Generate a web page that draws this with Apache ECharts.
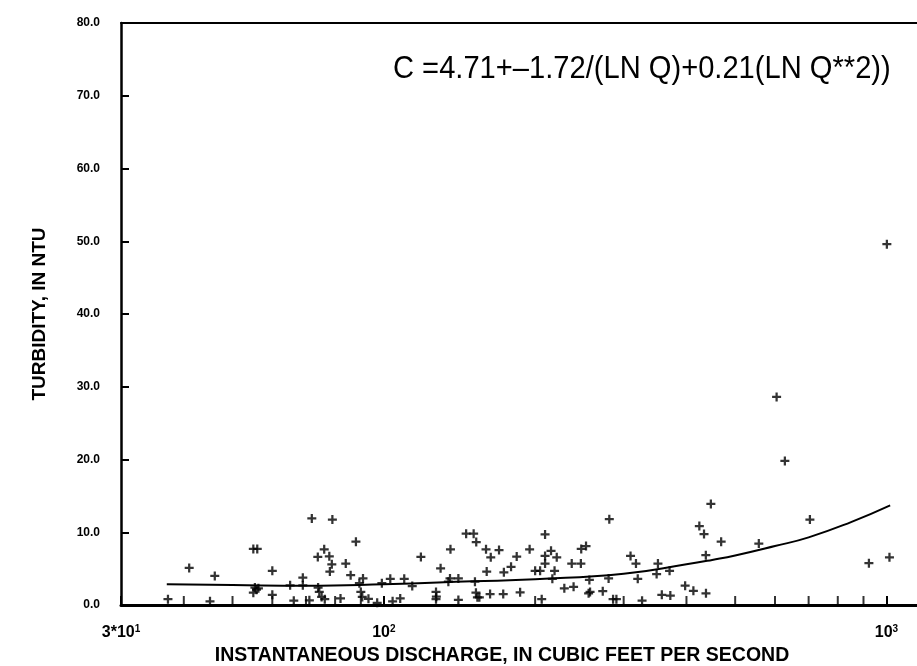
<!DOCTYPE html>
<html>
<head>
<meta charset="utf-8">
<title>Turbidity vs instantaneous discharge</title>
<script src="https://cdn.jsdelivr.net/npm/echarts@6/dist/echarts.min.js"></script>
<style>
  html, body { margin: 0; padding: 0; background: #fff; }
  #chart { width: 917px; height: 666px; }
</style>
</head>
<body>
<div id="chart"></div>
<script>
var discharge = [
  37.2, 41.0, 46.1, 45.1, 55.0, 56.0, 55.4, 55.0, 56.3, 55.8,
  60.0, 60.0, 65.1, 69.0, 69.0, 66.2, 71.1, 71.9, 79.0, 88.0,
  76.1, 73.9, 77.9, 78.8, 78.1, 84.0, 85.9, 90.9, 74.0, 74.4,
  75.2, 76.3, 82.0, 89.4, 90.0, 90.6, 93.2, 97.0, 99.1, 103.0,
  104.1, 107.8, 109.8, 113.9, 118.5, 129.7, 135.7, 134.4, 135.4, 140.7,
  127.0, 127.2, 127.0, 140.7, 145.8, 150.9, 152.7, 151.8, 152.5, 153.5,
  154.9, 159.7, 163.2, 169.5, 160.2, 162.7, 172.8, 173.3, 179.1, 183.8,
  186.7, 195.0, 200.0, 204.6, 206.1, 209.3, 209.3, 209.3, 215.1, 220.8,
  218.6, 216.4, 228.6, 238.5, 236.5, 246.6, 247.0, 252.5, 256.4, 255.5,
  257.2, 272.6, 280.9, 280.0, 285.8, 290.2, 309.6, 317.4, 320.0, 326.4,
  351.0, 348.9, 357.3, 370.2, 371.5, 397.6, 412.9, 437.4, 424.3, 433.5,
  447.3, 437.1, 468.9, 557.2, 604.5, 627.8, 704.1, 922.6, 1013.7, 1001.7
];
var turbidity = [
  0.8, 5.1, 4.0, 0.5, 7.7, 7.7, 2.4, 1.7, 2.3, 2.1,
  4.7, 1.4, 2.7, 3.75, 2.7, 0.6, 0.65, 11.9, 11.75, 8.7,
  7.65, 6.6, 6.7, 5.6, 4.6, 5.7, 4.1, 3.65, 2.4, 1.8,
  1.1, 0.8, 0.9, 3.0, 1.8, 1.1, 0.85, 0.3, 3.0, 3.6,
  0.5, 0.9, 3.6, 2.6, 6.6, 5.05, 7.65, 3.2, 3.65, 3.65,
  1.8, 1.15, 0.8, 0.7, 9.8, 9.8, 8.65, 3.2, 1.7, 1.05,
  1.05, 7.65, 6.55, 7.55, 4.6, 1.5, 1.5, 4.5, 5.25, 6.65,
  1.75, 7.65, 4.7, 4.7, 0.8, 9.7, 6.75, 5.7, 7.45, 6.55,
  4.7, 3.6, 2.3, 2.5, 5.7, 5.7, 7.7, 8.1, 3.45, 1.6,
  1.8, 1.9, 11.8, 3.65, 0.8, 0.8, 6.75, 5.7, 3.6, 0.6,
  5.7, 4.25, 1.4, 4.7, 1.3, 2.65, 1.95, 1.6, 10.85, 9.75,
  13.9, 6.85, 8.7, 8.45, 28.6, 19.8, 11.75, 5.75, 6.55, 49.6
];

// fitted curve
var curveQ = [37, 50, 70, 100, 150, 200, 300, 400, 450, 500, 600, 700, 850, 1017];
var curveT = [2.85, 2.75, 2.65, 2.85, 3.25, 3.55, 4.3, 5.6, 6.2, 6.8, 8.1, 9.3, 11.4, 13.7];

// axis ticks
var xMinorTicks = [40, 50, 60, 70, 80, 90, 200, 300, 400, 500, 600, 700, 800, 900];
var xLabelValues = [30, 100, 1000];
var xLabelBase = ['3*10', '10', '10'];
var xLabelExp = ['1', '2', '3'];

var equation = 'C =4.71+\u20131.72/(LN Q)+0.21(LN Q**2))';

var chart = echarts.init(document.getElementById('chart'));

var points = discharge.map(function (q, i) { return [q, turbidity[i]]; });
var curve = curveQ.map(function (q, i) { return [q, curveT[i]]; });

chart.setOption({
  animation: false,
  backgroundColor: '#fff',
  grid: {
    left: 121,
    right: 0,
    top: 23,
    bottom: 61,
    outerBoundsMode: 'none',
    containLabel: false
  },
  xAxis: [{
    type: 'log',
    logBase: 10,
    position: 'bottom',
    min: 30,
    max: 1150,
    name: 'INSTANTANEOUS DISCHARGE, IN CUBIC FEET PER SECOND',
    nameLocation: 'middle',
    nameGap: 40,
    nameTextStyle: {
      color: '#000',
      fontFamily: 'Liberation Sans',
      fontWeight: 'bold',
      fontSize: 19.5,
      padding: [0, 34, 0, 0]
    },
    axisLine: { lineStyle: { color: '#000', width: 3 } },
    axisTick: { inside: true, length: 9, lineStyle: { color: '#000', width: 2 } },
    splitLine: { show: false },
    minorTick: { show: false },
    axisLabel: {
      margin: 19,
      showMaxLabel: false,
      color: '#000',
      formatter: function (v) {
        for (var i = 0; i < xLabelValues.length; i++) {
          if (Math.abs(v - xLabelValues[i]) < 0.5) {
            return '{b|' + xLabelBase[i] + '}{s|' + xLabelExp[i] + '}';
          }
        }
        return '';
      },
      rich: {
        b: { fontFamily: 'Liberation Sans', fontWeight: 'bold', fontSize: 16, color: '#000' },
        s: { fontFamily: 'Liberation Sans', fontWeight: 'bold', fontSize: 10, color: '#000', verticalAlign: 'top', padding: [0, 0, 7, 0] }
      }
    }
  }, {
    // top frame line only
    type: 'value',
    position: 'top',
    min: 0,
    max: 1,
    axisLine: { show: true, lineStyle: { color: '#000', width: 2 } },
    axisTick: { show: false },
    axisLabel: { show: false },
    splitLine: { show: false }
  }],
  yAxis: {
    type: 'value',
    min: 0,
    max: 80,
    interval: 10,
    name: 'TURBIDITY, IN NTU',
    nameLocation: 'middle',
    nameGap: 72,
    nameRotate: 90,
    nameTextStyle: {
      color: '#000',
      fontFamily: 'Liberation Sans',
      fontWeight: 'bold',
      fontSize: 19
    },
    axisLine: { show: true, lineStyle: { color: '#000', width: 2.5 } },
    axisTick: { show: true, inside: true, length: 8, lineStyle: { color: '#000', width: 2 } },
    splitLine: { show: false },
    axisLabel: {
      margin: 21,
      color: '#000',
      fontFamily: 'Liberation Sans',
      fontWeight: 'bold',
      fontSize: 12,
      formatter: function (v) { return v.toFixed(1); }
    }
  },
  graphic: [{
    type: 'text',
    x: 393,
    y: 53,
    scaleX: 0.91,
    style: {
      text: equation,
      fill: '#000',
      font: '32px "Liberation Sans", sans-serif'
    }
  }],
  series: [
    {
      name: 'minor ticks',
      type: 'scatter',
      silent: true,
      symbol: 'rect',
      symbolSize: [2, 9],
      symbolOffset: [0, -4.5],
      itemStyle: { color: '#000' },
      data: xMinorTicks.map(function (q) { return [q, 0]; }),
      z: 1
    },
    {
      name: 'fitted',
      type: 'line',
      smooth: true,
      showSymbol: false,
      lineStyle: { color: '#000', width: 2 },
      data: curve,
      z: 2
    },
    {
      name: 'samples',
      type: 'scatter',
      symbol: 'path://M3,0H5V3H8V5H5V8H3V5H0V3H3Z',
      symbolSize: 9,
      itemStyle: { color: '#000' },
      data: points,
      z: 3
    }
  ]
});
</script>
</body>
</html>
